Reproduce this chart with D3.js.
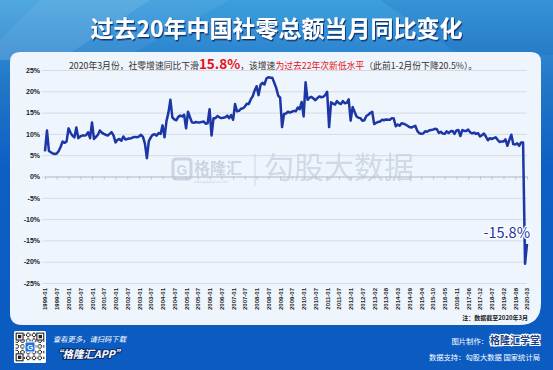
<!DOCTYPE html>
<html>
<head>
<meta charset="utf-8">
<script src="https://cdn.jsdelivr.net/npm/d3@7"></script>
<style>
html, body { margin: 0; padding: 0; background: #0c5dc3; }
svg { display: block; }
</style>
</head>
<body>
<div id="chart"></div>
<script>
var W = 553, H = 370;

// Data: retail sales YoY %, one row per year (from 2013 Jan is merged into Feb)
var years = [1999, 2000, 2001, 2002, 2003, 2004, 2005, 2006, 2007, 2008, 2009,
	2010, 2011, 2012, 2013, 2014, 2015, 2016, 2017, 2018, 2019, 2020];
var firstMonth = [1, 1, 1, 1, 1, 1, 1, 1, 1, 1, 1, 1, 1, 1, 2, 2, 2, 2, 2, 2, 2, 2];
var retailYoY = [
	[5.9, 10.8, 6.0, 5.7, 5.4, 5.3, 5.4, 6.0, 7.0, 8.2, 7.9, 8.2],
	[11.3, 10.3, 9.6, 9.2, 11.5, 9.0, 9.4, 9.6, 9.6, 9.7, 10.4, 9.0],
	[12.7, 8.8, 9.3, 9.8, 10.8, 10.3, 10.0, 9.8, 9.6, 10.0, 10.4, 9.6],
	[8.0, 8.6, 8.8, 8.4, 9.4, 8.7, 8.8, 8.9, 9.0, 9.2, 9.3, 9.2],
	[9.4, 9.8, 9.3, 7.7, 4.3, 8.3, 9.2, 9.8, 9.9, 9.6, 10.2, 10.0],
	[12.0, 9.2, 13.0, 15.0, 18.0, 13.9, 13.4, 13.2, 14.0, 14.3, 14.1, 14.5],
	[11.3, 15.2, 13.9, 12.7, 12.6, 12.8, 12.7, 12.7, 12.8, 12.9, 12.4, 12.5],
	[15.8, 9.6, 13.7, 13.7, 14.2, 13.9, 13.7, 13.8, 13.9, 14.3, 13.7, 14.4],
	[13.3, 17.0, 15.3, 15.4, 15.9, 16.0, 16.4, 17.1, 17.0, 18.1, 18.8, 20.2],
	[21.2, 19.1, 21.5, 22.0, 21.6, 23.0, 23.3, 23.2, 23.2, 22.0, 20.8, 19.0],
	[18.5, 11.6, 14.7, 14.8, 15.2, 15.0, 15.2, 15.4, 15.3, 16.2, 15.8, 17.5],
	[14.1, 22.1, 18.0, 18.5, 18.7, 18.3, 17.9, 18.4, 18.8, 18.6, 18.7, 19.1],
	[19.9, 11.6, 17.4, 17.1, 16.9, 17.7, 17.2, 17.0, 17.7, 17.2, 17.3, 18.1],
	[13.1, 16.3, 15.2, 14.1, 13.8, 13.7, 13.1, 13.2, 14.2, 14.5, 14.9, 15.2],
	[12.3, 12.6, 12.8, 12.9, 13.3, 13.2, 13.4, 13.3, 13.3, 13.7, 13.6],
	[11.8, 12.2, 11.9, 12.5, 12.4, 12.2, 11.9, 11.6, 11.5, 11.7, 11.9],
	[10.7, 10.2, 10.0, 10.1, 10.6, 10.5, 10.8, 10.9, 11.0, 11.2, 11.1],
	[10.2, 10.5, 10.1, 10.0, 10.6, 10.2, 10.6, 10.7, 10.0, 10.8, 10.9],
	[9.5, 10.9, 10.7, 10.7, 11.0, 10.4, 10.1, 10.3, 10.0, 10.2, 9.4],
	[9.7, 10.1, 9.4, 8.5, 9.0, 8.8, 9.0, 9.2, 8.6, 8.1, 8.2],
	[8.2, 8.7, 7.2, 8.6, 9.8, 7.6, 7.5, 7.8, 7.2, 8.0, 8.0],
	[-20.5, -15.8]
];
var tickLabels = ['1999-01', '1999-07', '2000-01', '2000-07', '2001-01', '2001-07',
	'2002-01', '2002-07', '2003-01', '2003-07', '2004-01', '2004-07', '2005-01', '2005-07',
	'2006-01', '2006-07', '2007-01', '2007-07', '2008-01', '2008-07', '2009-01', '2009-07',
	'2010-01', '2010-07', '2011-01', '2011-07', '2012-01', '2012-07', '2013-02', '2013-08',
	'2014-03', '2014-09', '2015-04', '2015-10', '2016-05', '2016-11', '2017-06', '2017-12',
	'2018-07', '2019-02', '2019-08', '2020-03'];
var yTicks = [25, 20, 15, 10, 5, 0, -5, -10, -15, -20, -25];

// flatten into month keys
var series = [];
years.forEach(function (yr, i) {
	retailYoY[i].forEach(function (v, j) {
		var m = firstMonth[i] + j;
		series.push({ key: yr + '-' + (m < 10 ? '0' + m : m), value: v });
	});
});

var cjk = '"Noto Sans CJK SC", "Noto Sans", sans-serif';

var svg = d3.select('#chart').append('svg')
	.attr('width', W)
	.attr('height', H);

var defs = svg.append('defs');
var bg = defs.append('linearGradient').attr('id', 'bg')
	.attr('x1', 0).attr('y1', 0).attr('x2', 0).attr('y2', 1);
bg.append('stop').attr('offset', '0%').attr('stop-color', '#3d9fdd');
bg.append('stop').attr('offset', '22%').attr('stop-color', '#2378c8');
bg.append('stop').attr('offset', '45%').attr('stop-color', '#0d5fc4');
bg.append('stop').attr('offset', '100%').attr('stop-color', '#0b5bc1');

var shadow = defs.append('filter').attr('id', 'shadow')
	.attr('x', '-10%').attr('y', '-30%').attr('width', '120%').attr('height', '160%');
shadow.append('feDropShadow')
	.attr('dx', 1).attr('dy', 1.5).attr('stdDeviation', 0.7)
	.attr('flood-color', '#0a2a66').attr('flood-opacity', 0.9);

// background
svg.append('rect').attr('width', W).attr('height', H).attr('fill', 'url(#bg)');
svg.append('polygon')
	.attr('points', '0,0 150,0 60,60 0,60')
	.attr('fill', '#ffffff').attr('opacity', 0.1);
svg.append('polygon')
	.attr('points', '40,0 230,0 120,60 0,60 0,40')
	.attr('fill', '#ffffff').attr('opacity', 0.06);
svg.append('polygon')
	.attr('points', '380,0 553,0 553,55 460,55')
	.attr('fill', '#0a3f9a').attr('opacity', 0.12);

// card
var cx0 = 10, cy0 = 52, cx1 = 541, cy1 = 325;
svg.append('path')
	.attr('d', 'M' + (cx0 + 10) + ',' + cy0 +
		' H' + (cx1 - 10) + ' Q' + cx1 + ',' + cy0 + ' ' + cx1 + ',' + (cy0 + 10) +
		' V' + (cy1 - 22) + ' Q' + cx1 + ',' + cy1 + ' ' + (cx1 - 22) + ',' + cy1 +
		' H' + (cx0 + 12) + ' Q' + cx0 + ',' + cy1 + ' ' + cx0 + ',' + (cy1 - 12) +
		' V' + (cy0 + 10) + ' Q' + cx0 + ',' + cy0 + ' ' + (cx0 + 10) + ',' + cy0 + ' Z')
	.attr('fill', '#eef5fc');

// title
svg.append('text')
	.attr('x', W / 2).attr('y', 37)
	.attr('text-anchor', 'middle')
	.attr('font-family', cjk)
	.attr('font-weight', 700)
	.attr('font-size', '23px')
	.attr('fill', '#ffffff')
	.attr('filter', 'url(#shadow)')
	.text('过去20年中国社零总额当月同比变化');

// subtitle
var sub = svg.append('text')
	.attr('x', 273).attr('y', 69)
	.attr('text-anchor', 'middle')
	.attr('font-family', cjk)
	.attr('font-size', '8.8px')
	.attr('fill', '#333333');
sub.append('tspan').text('2020年3月份，社零增速同比下滑');
sub.append('tspan').attr('fill', '#e8121b').attr('font-size', '13.5px').attr('font-weight', 700).text('15.8%');
sub.append('tspan').text('，该增速');
sub.append('tspan').attr('fill', '#e8121b').text('为过去22年次新低水平');
sub.append('tspan').text('（此前1-2月份下降20.5%）。');

// scales
var x = d3.scalePoint()
	.domain(series.map(function (d) { return d.key; }))
	.range([45, 527]);
var y = d3.scaleLinear()
	.domain([-25, 25])
	.range([283, 70]);

// grid lines
var grid = svg.append('g')
	.attr('transform', 'translate(42,0)')
	.call(d3.axisRight(y).tickValues(yTicks).tickSize(485).tickFormat(''));
grid.select('.domain').remove();
grid.selectAll('line').attr('stroke', '#d6dbe2').attr('stroke-width', 1);

// y labels
var yAxis = svg.append('g')
	.attr('transform', 'translate(40,0)')
	.call(d3.axisLeft(y).tickValues(yTicks).tickSize(0).tickPadding(0)
		.tickFormat(function (d) { return d + '%'; }));
yAxis.select('.domain').remove();
yAxis.selectAll('text')
	.attr('font-family', '"Liberation Sans", Arial, sans-serif')
	.attr('font-weight', 700)
	.attr('font-size', '7px')
	.attr('fill', '#222222');

// watermark
var wm = svg.append('g').attr('opacity', 0.85);
wm.append('rect')
	.attr('x', 173).attr('y', 159).attr('width', 18).attr('height', 20).attr('rx', 3)
	.attr('fill', 'none').attr('stroke', '#c3d0df').attr('stroke-width', 3);
wm.append('text')
	.attr('x', 182).attr('y', 175).attr('text-anchor', 'middle')
	.attr('font-family', '"Liberation Sans", sans-serif').attr('font-weight', 700)
	.attr('font-size', '14px').attr('fill', '#c3d0df').text('G');
wm.append('text')
	.attr('x', 194).attr('y', 174)
	.attr('font-family', cjk).attr('font-weight', 700)
	.attr('font-size', '16px').attr('fill', '#c3d0df').text('格隆汇');
wm.append('text')
	.attr('x', 194).attr('y', 183)
	.attr('font-family', '"Liberation Sans", sans-serif')
	.attr('font-size', '3.8px').attr('fill', '#c3d0df').text('www.gelonghui.com');
wm.append('line')
	.attr('x1', 255).attr('x2', 255).attr('y1', 154).attr('y2', 186)
	.attr('stroke', '#c3d0df').attr('stroke-width', 1);
wm.append('text')
	.attr('x', 264).attr('y', 178)
	.attr('font-family', cjk)
	.attr('font-size', '30px').attr('fill', '#cbd6e3').text('勾股大数据');

// zero axis with ticks
var zero = svg.append('g')
	.attr('transform', 'translate(0,' + y(0) + ')')
	.call(d3.axisBottom(x).tickValues(tickLabels).tickSize(3).tickSizeOuter(0).tickFormat(''));
zero.select('.domain').attr('stroke', '#bcc3cc');
zero.selectAll('.tick line').attr('stroke', '#bcc3cc');

// x labels
var xAxis = svg.append('g')
	.attr('transform', 'translate(0,287)')
	.call(d3.axisBottom(x).tickValues(tickLabels).tickSize(0));
xAxis.select('.domain').remove();
xAxis.selectAll('text')
	.attr('transform', 'rotate(-90)')
	.attr('x', -1).attr('y', 0).attr('dy', '0.33em')
	.style('text-anchor', 'end')
	.attr('font-family', '"Liberation Sans", Arial, sans-serif')
	.attr('font-weight', 700)
	.attr('font-size', '6px')
	.attr('fill', '#222222');

// line
var line = d3.line()
	.x(function (d) { return x(d.key); })
	.y(function (d) { return y(d.value); });
svg.append('path')
	.datum(series)
	.attr('d', line)
	.attr('fill', 'none')
	.attr('stroke', '#1c36a6')
	.attr('stroke-width', 2.5)
	.attr('stroke-linejoin', 'round');

// end label
var last = series[series.length - 1];
svg.append('text')
	.attr('x', x(last.key) + 3).attr('y', y(last.value) - 6)
	.attr('text-anchor', 'end')
	.attr('font-family', cjk)
	.attr('font-size', '14.5px')
	.attr('fill', '#1c36a6')
	.attr('stroke', '#ffffff').attr('stroke-width', 2.5)
	.attr('paint-order', 'stroke')
	.text(last.value + '%');

// note
svg.append('text')
	.attr('x', 528).attr('y', 320)
	.attr('text-anchor', 'end')
	.attr('font-family', cjk).attr('font-weight', 700)
	.attr('font-size', '6px').attr('fill', '#222222')
	.text('注：数据截至2020年3月');

// footer: QR code
var qr = svg.append('g').attr('transform', 'translate(14,331)');
qr.append('rect').attr('width', 32).attr('height', 32).attr('rx', 1.5).attr('fill', '#ffffff');
var cells = [];
for (var i = 0; i < 25; i++) {
	for (var j = 0; j < 25; j++) {
		var finder = (i < 7 && j < 7) || (i < 7 && j > 17) || (i > 17 && j < 7);
		if (!finder && ((i * 7 + j * 11 + i * j) % 5 < 2)) cells.push([i, j]);
	}
}
qr.selectAll('rect.cell').data(cells).enter().append('rect')
	.attr('class', 'cell')
	.attr('x', function (d) { return 1.6 + d[1] * 1.15; })
	.attr('y', function (d) { return 1.6 + d[0] * 1.15; })
	.attr('width', 1.15).attr('height', 1.15)
	.attr('fill', '#222222');
[[1.6, 1.6], [22.3, 1.6], [1.6, 22.3]].forEach(function (p) {
	qr.append('rect').attr('x', p[0]).attr('y', p[1]).attr('width', 8).attr('height', 8).attr('fill', '#222');
	qr.append('rect').attr('x', p[0] + 1.1).attr('y', p[1] + 1.1).attr('width', 5.8).attr('height', 5.8).attr('fill', '#fff');
	qr.append('rect').attr('x', p[0] + 2.3).attr('y', p[1] + 2.3).attr('width', 3.4).attr('height', 3.4).attr('fill', '#222');
});
qr.append('rect').attr('x', 11).attr('y', 11).attr('width', 10).attr('height', 10).attr('rx', 1.5)
	.attr('fill', '#1b73e0').attr('stroke', '#ffffff').attr('stroke-width', 1);
qr.append('text').attr('x', 16).attr('y', 19).attr('text-anchor', 'middle')
	.attr('font-family', '"Liberation Sans", sans-serif').attr('font-weight', 700)
	.attr('font-size', '8px').attr('fill', '#ffffff').text('G');

// footer texts
svg.append('text')
	.attr('x', 53).attr('y', 342)
	.attr('font-family', cjk).attr('font-style', 'italic')
	.attr('font-size', '7.3px').attr('fill', '#ffffff')
	.text('查看更多，请扫码下载');
svg.append('text')
	.attr('x', 52).attr('y', 358)
	.attr('font-family', cjk).attr('font-style', 'italic').attr('font-weight', 700)
	.attr('font-size', '10.5px').attr('fill', '#ffffff')
	.attr('stroke', '#0a2a66').attr('stroke-width', 2).attr('paint-order', 'stroke')
	.text('“格隆汇APP”');

svg.append('text')
	.attr('x', 488).attr('y', 343.5)
	.attr('text-anchor', 'end')
	.attr('font-family', cjk)
	.attr('font-size', '7.3px').attr('fill', '#ffffff')
	.text('图片制作：');
svg.append('text')
	.attr('x', 490).attr('y', 343.5)
	.attr('font-family', cjk).attr('font-weight', 700)
	.attr('font-size', '10px').attr('fill', '#1b3f86')
	.attr('stroke', '#ffffff').attr('stroke-width', 2.2).attr('paint-order', 'stroke')
	.text('格隆汇学堂');
svg.append('text')
	.attr('x', 540).attr('y', 360)
	.attr('text-anchor', 'end')
	.attr('font-family', cjk)
	.attr('font-size', '7.3px').attr('fill', '#ffffff')
	.text('数据支持：勾股大数据  国家统计局');
</script>
</body>
</html>
